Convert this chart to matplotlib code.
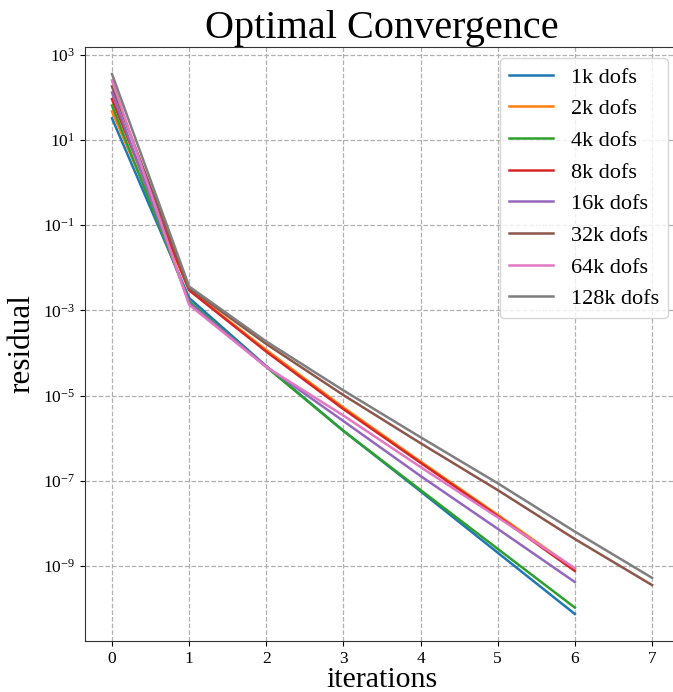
import matplotlib
matplotlib.use("Agg")
import matplotlib.pyplot as plt
import matplotlib.ticker as mticker
import numpy as np

plt.rcParams['font.family'] = ['Liberation Serif', 'DejaVu Serif']
plt.rcParams['mathtext.fontset'] = 'cm'

labels = ["1k dofs", "2k dofs", "4k dofs", "8k dofs", "16k dofs", "32k dofs", "64k dofs", "128k dofs"]
colors = ["#1f77b4", "#ff7f0e", "#2ca02c", "#d62728", "#9467bd", "#8c564b", "#e377c2", "#7f7f7f"]

# log10 of residual per iteration
res_1k = [1.51, -2.71, -4.31, -5.83, -7.25, -8.69, -10.13]
res_2k = [1.67, -2.52, -3.93, -5.28, -6.55, -7.80, -9.07]
res_4k = [1.81, -2.79, -4.33, -5.83, -7.22, -8.60, -9.98]
res_8k = [1.96, -2.53, -3.97, -5.32, -6.58, -7.83, -9.12]
res_16k = [2.115, -2.83, -4.32, -5.60, -6.89, -8.13, -9.38]
res_32k = [2.26, -2.48, -3.79, -4.99, -6.12, -7.22, -8.37, -9.45]
res_64k = [2.40, -2.87, -4.33, -5.47, -6.68, -7.86, -9.055]
res_128k = [2.55, -2.44, -3.73, -4.88, -5.98, -7.06, -8.195, -9.28]

series = [res_1k, res_2k, res_4k, res_8k, res_16k, res_32k, res_64k, res_128k]

fig = plt.figure(figsize=(6.73, 6.92), dpi=100)
ax = fig.add_axes([0.1263, 0.0737, 0.8826, 0.8584])

for lab, col, s in zip(labels, colors, series):
    it = np.arange(len(s))
    ax.plot(it, 10.0 ** np.array(s), color=col, lw=1.8, label=lab)

ax.set_yscale('log')
ax.set_xlim(-0.35, 7.35)
ax.yaxis.set_major_locator(mticker.FixedLocator([10.0 ** k for k in range(-9, 4, 2)]))
ax.yaxis.set_minor_locator(mticker.NullLocator())
ax.set_xticks(range(0, 8))
ax.grid(True, which='major', linestyle='--', color='#b0b0b0', lw=0.9)
ax.tick_params(labelsize=12.5)
ax.spines['right'].set_visible(False)
for sp in ('left', 'bottom', 'top'):
    ax.spines[sp].set_color('#333333')

ax.set_title("Optimal Convergence", fontsize=29, pad=3)
ax.set_xlabel("iterations", fontsize=21.5, labelpad=0)
ax.set_ylabel("residual", fontsize=22.5, labelpad=5)
ax.legend(loc='upper right', fontsize=16, framealpha=0.8, borderaxespad=0.5)

fig.savefig("out.png", dpi=100)
